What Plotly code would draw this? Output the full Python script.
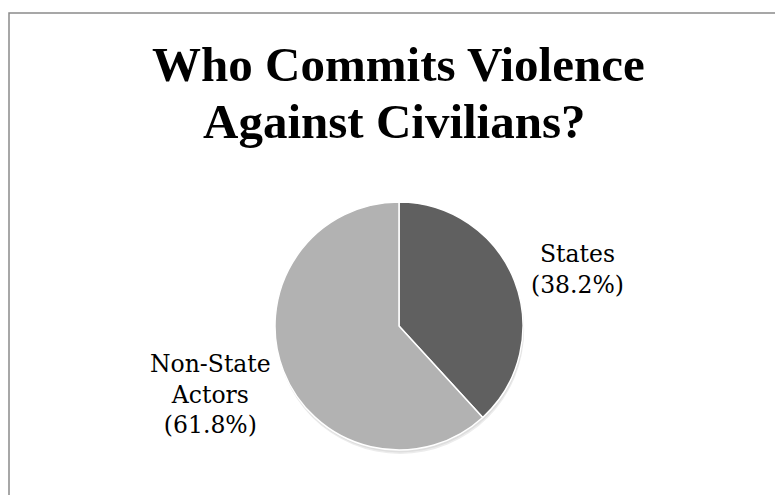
import plotly.graph_objects as go

# Share of violence against civilians by perpetrator type
categories = ["States", "Non-State Actors"]
label_lines = [["States"], ["Non-State", "Actors"]]
shares = [38.2, 61.8]
slice_colors = ["#606060", "#b2b2b2"]

title_lines = ["Who Commits Violence", "Against Civilians?"]

W, H = 775, 495
cx, cy, r = 399, 326, 124  # pie centre and radius in pixels


def px_x(x):
    return x / W


def px_y(y):
    return 1 - y / H


fig = go.Figure()

fig.add_trace(go.Pie(
    labels=categories,
    values=shares,
    sort=False,
    direction="clockwise",
    rotation=0,
    marker=dict(colors=slice_colors, line=dict(color="white", width=1.5)),
    textinfo="none",
    hoverinfo="label+percent",
    showlegend=False,
    domain=dict(x=[px_x(cx - r), px_x(cx + r)], y=[px_y(cy + r), px_y(cy - r)]),
))

# soft drop shadow beneath the pie
shadow_shapes = []
for off, col in [(4, "#ececec"), (2.5, "#dedede")]:
    shadow_shapes.append(dict(
        type="circle", xref="paper", yref="paper", layer="below",
        x0=px_x(cx - r + off * 0.3), x1=px_x(cx + r + off * 0.3),
        y0=px_y(cy + r + off), y1=px_y(cy - r + off),
        fillcolor=col, line=dict(width=0),
    ))

# chart-area frame (top and left edges visible)
frame = dict(type="rect", xref="paper", yref="paper",
             x0=px_x(9), x1=px_x(W + 10), y0=px_y(H + 10), y1=px_y(13),
             line=dict(color="#8a8a8a", width=1.5), fillcolor="rgba(0,0,0,0)")

annotations = []
title_font = dict(family="Liberation Serif", size=49, color="black")
for line, (x, y) in zip(title_lines, [(398, 65), (394, 121)]):
    annotations.append(dict(text=f"<b>{line}</b>", x=px_x(x), y=px_y(y),
                            xref="paper", yref="paper", showarrow=False,
                            xanchor="center", yanchor="middle", font=title_font))

label_font = dict(family="DejaVu Serif", size=23.5, color="black")
label_pos = [(577, 269), (210, 394)]
for lines, val, (x, y) in zip(label_lines, shares, label_pos):
    text = "<br>".join(lines + [f"({val:.1f}%)"])
    annotations.append(dict(text=text, x=px_x(x), y=px_y(y), xref="paper", yref="paper",
                            showarrow=False, xanchor="center", yanchor="middle",
                            align="center", font=label_font))

fig.update_layout(
    width=W, height=H,
    margin=dict(l=0, r=0, t=0, b=0),
    paper_bgcolor="white", plot_bgcolor="white",
    shapes=shadow_shapes + [frame],
    annotations=annotations,
)

fig.write_html("out.html")
